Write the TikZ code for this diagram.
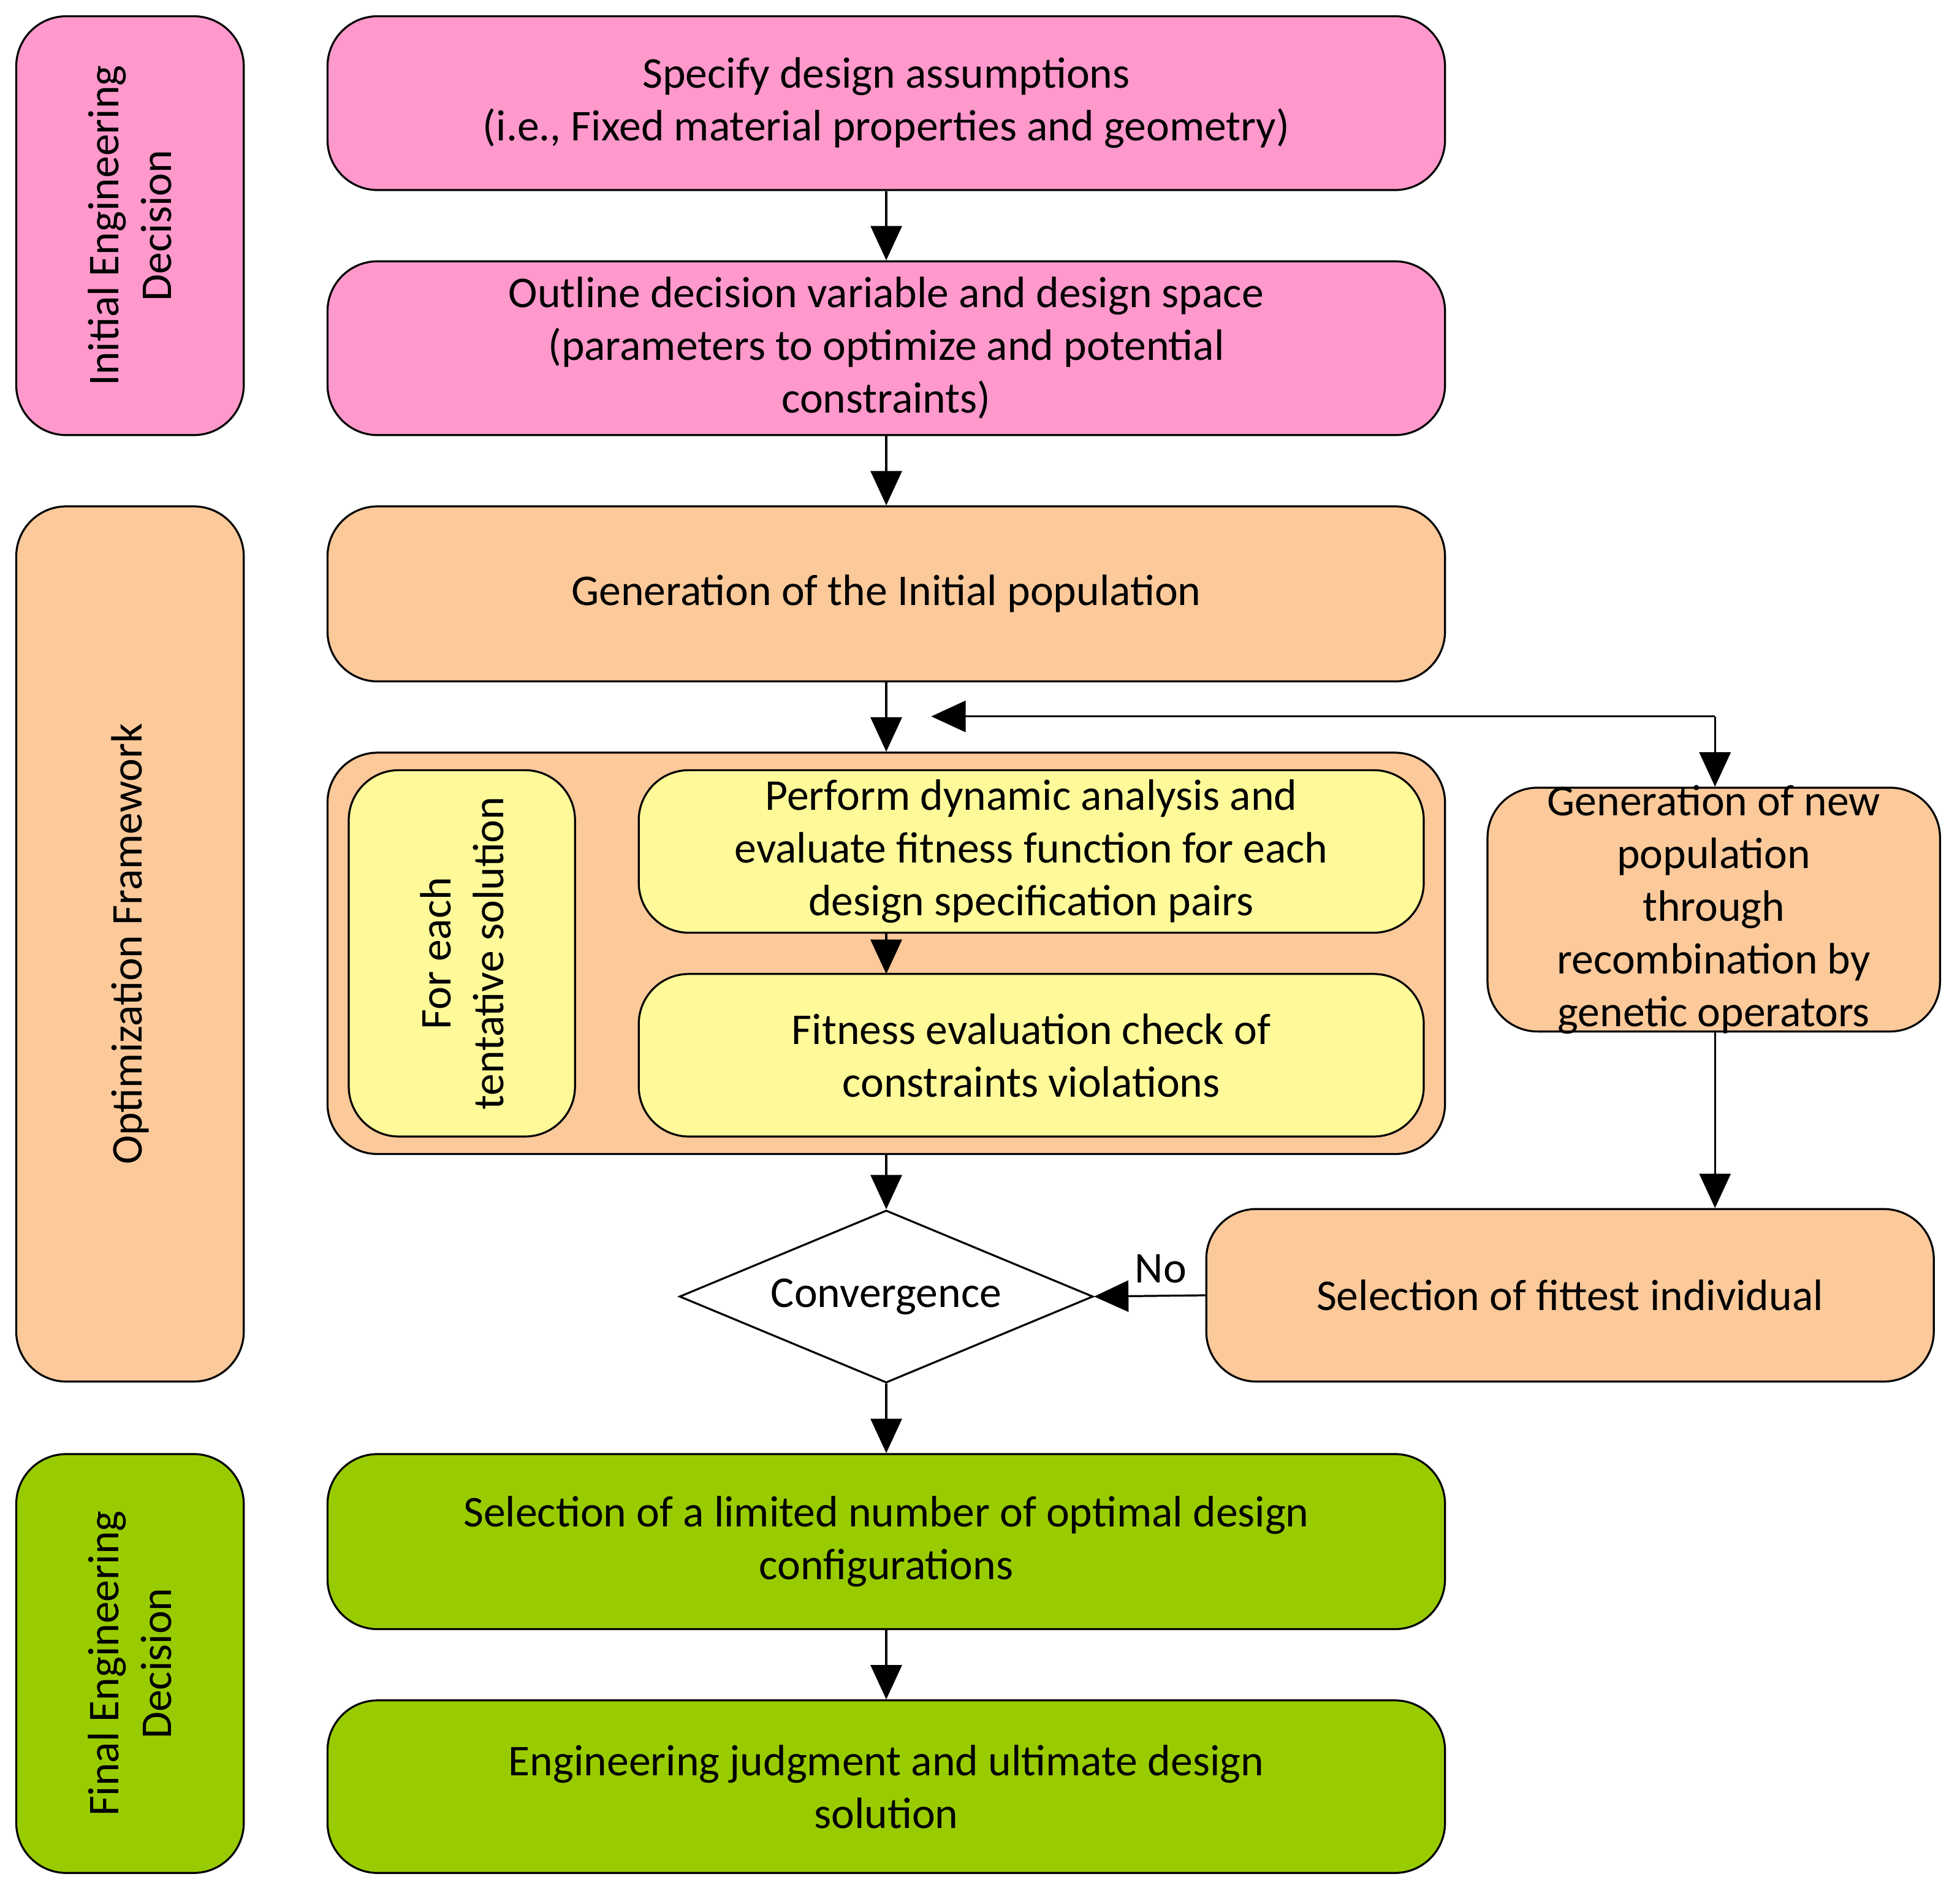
\documentclass[tikz,border=0pt]{standalone}
\usepackage{fontspec}
\setmainfont{Carlito}
\usetikzlibrary{shapes.geometric,arrows.meta}
\begin{document}
\begin{tikzpicture}[x=0.02cm,y=-0.02cm,
 bx/.style={draw,rounded corners=0.8cm,line width=0.9pt,align=center,font=\fontsize{20}{24}\selectfont},
 arr/.style={-{Triangle[length=0.55cm,width=0.5cm]},line width=0.9pt}]
\definecolor{pk}{HTML}{FF99CC}\definecolor{org}{HTML}{FBC99A}
\definecolor{yl}{HTML}{FFFA99}\definecolor{gr}{HTML}{99CC00}
\useasboundingbox (0,0) rectangle (1568,1514);
\newcommand{\bx}[7]{\node[bx,fill=#6,minimum width=(#3-#2)*0.02cm,minimum height=(#5-#4)*0.02cm,#7] (#1) at ({(#2+#3)/2},{(#4+#5)/2}) {};}
% side
\bx{s1}{13}{195}{13}{348}{pk}{}
\bx{s2}{13}{195}{405}{1105}{org}{}
\bx{s3}{13}{195}{1163}{1498}{gr}{}
\node[rotate=90,align=center,font=\fontsize{20}{24}\selectfont] (t1) at (s1) {Initial Engineering\\Decision};
\node[rotate=90,align=center,font=\fontsize{20}{24}\selectfont] (t2) at (s2) {Optimization Framework};
\node[rotate=90,align=center,font=\fontsize{20}{24}\selectfont] (t3) at (s3) {Final Engineering\\Decision};
% main
\bx{b1}{262}{1156}{13}{152}{pk}{}
\node[align=center,font=\fontsize{20}{24}\selectfont] (b1t) at (b1) {Specify design assumptions\\(i.e., Fixed material properties and geometry)};
\bx{b2}{262}{1156}{209}{348}{pk}{}
\node[align=center,font=\fontsize{20}{24}\selectfont] (b2t) at (b2) {Outline decision variable and design space\\(parameters to optimize and potential\\constraints)};
\bx{b3}{262}{1156}{405}{545}{org}{}
\node[font=\fontsize{20}{24}\selectfont] (b3t) at (b3) {Generation of the Initial population};
\bx{c}{262}{1156}{602}{923}{org}{}
\bx{il}{279}{460}{616}{909}{yl}{}
\node[rotate=90,align=center,font=\fontsize{20}{24}\selectfont] (ilt) at (il) {For each\\tentative solution};
\bx{i1}{511}{1139}{616}{746}{yl}{}
\node[align=center,font=\fontsize{20}{24}\selectfont] (i1t) at (i1) {Perform dynamic analysis and\\evaluate fitness function for each\\design specification pairs};
\bx{i2}{511}{1139}{779}{909}{yl}{}
\node[align=center,font=\fontsize{20}{24}\selectfont] (i2t) at (i2) {Fitness evaluation check of\\constraints violations};
\node[draw,diamond,aspect=2.4,fill=white,line width=0.9pt,inner sep=0pt,minimum width=6.62cm,minimum height=2.76cm,font=\fontsize{20}{24}\selectfont] (d) at (709,1037) {Convergence};
\bx{f}{965}{1547}{967}{1105}{org}{}
\node[font=\fontsize{20}{24}\selectfont] (ft) at (f) {Selection of fittest individual};
\bx{n}{1190}{1552}{630}{825}{org}{}
\node[align=center,font=\fontsize{20}{24}\selectfont] (nt) at (n) {Generation of new\\population\\through\\recombination by\\genetic operators};
\bx{g1}{262}{1156}{1163}{1303}{gr}{}
\node[align=center,font=\fontsize{20}{24}\selectfont] (g1t) at (g1) {Selection of a limited number of optimal design\\configurations};
\bx{g2}{262}{1156}{1360}{1498}{gr}{}
\node[align=center,font=\fontsize{20}{24}\selectfont] (g2t) at (g2) {Engineering judgment and ultimate design\\solution};
% arrows
\draw[arr] (b1) -- (b2); \draw[arr] (b2) -- (b3); \draw[arr] (b3) -- (c);
\draw[arr] (i1.south -| 709,0) -- (709,779);
\draw[arr] (c.south -| d) -- (d.north); \draw[arr] (d) -- (g1); \draw[arr] (g1) -- (g2);
\coordinate (lp) at (745,573); \coordinate (rp) at (1372,573);
\draw[arr] (rp) -- (lp); \draw[arr] (rp) -- (n.north -| rp);
\draw[arr] (n.south -| rp) -- (f.north -| rp);
\draw[arr] (f.west) -- (d.east) node[pos=0.4,above=2pt,font=\fontsize{20}{24}\selectfont] {No};
\end{tikzpicture}
\end{document}
